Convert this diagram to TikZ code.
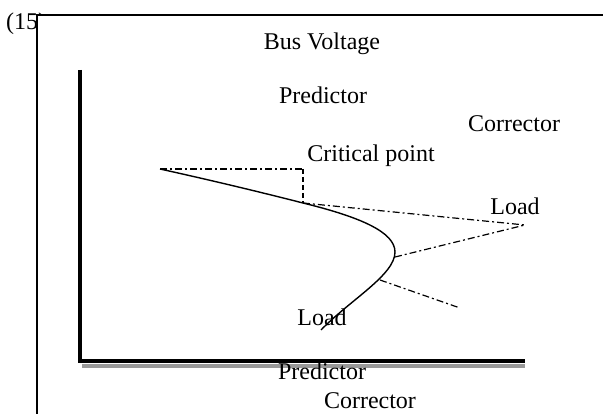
\documentclass[tikz,border=0pt]{standalone}
\usepackage{fontspec}
\setmainfont{Liberation Serif}
\usetikzlibrary{positioning}
\tikzset{
  axis/.style={line width=4.6pt, draw=black},
  shade/.style={line width=3pt, draw=black!40},
  frame/.style={line width=1.2pt, draw=black},
  curve/.style={line width=1.4pt, draw=black},
  guide/.style={line width=1.2pt, draw=black, dash pattern=on 7pt off 3pt on 2pt off 3pt},
  guidev/.style={line width=1.2pt, draw=black, dash pattern=on 5pt off 3pt},
  lbl/.style={font=\fontsize{24}{28}\selectfont, inner sep=0pt, anchor=base},
}

\begin{document}
\begin{tikzpicture}[x=1pt, y=-1pt]
  \useasboundingbox (0,0) rectangle (603,414);
  % frame (white box laid over the equation number)
  \coordinate (ftl) at (37,15);
  \coordinate (ftr) at (603,15);
  \coordinate (fbl) at (37,414);
  \node[lbl, anchor=base west] (eq) at (6,30) {(15)};
  \fill[white] (ftl) rectangle (603,414);
  \draw[frame] (fbl) -- (ftl) -- (ftr);
  % axes
  \coordinate (ytop) at (80,70);
  \coordinate (orig) at (80,361);
  \coordinate (xend) at (525,361);
  \draw[shade] (82,366) -- (525,366);
  \draw[axis] (ytop) -- (orig) -- (xend);
  % PV curve
  \coordinate (start) at (160,169);
  \coordinate (crit) at (303,203);
  \coordinate (nose) at (395,252);
  \coordinate (tail) at (321,330);
  \draw[curve] (start) .. controls (210,180) and (260,192) .. (crit)
    .. controls (360,217) and (395,232) .. (nose)
    .. controls (395,275) and (350,300) .. (tail);
  % predictor / corrector guides
  \coordinate (corner) at (303,169);
  \coordinate (tipR) at (525,225);
  \coordinate (nose2) at (395,257);
  \coordinate (low) at (380,280);
  \coordinate (tipL) at (460,308);
  \draw[guide] (start) -- (corner);
  \draw[guidev] (corner) -- (crit);
  \draw[guide] (crit) -- (tipR);
  \draw[guide] (nose2) -- (tipR);
  \draw[guide] (low) -- (tipL);
  % labels
  \node[lbl] (bus) at (322,50) {Bus Voltage};
  \node[lbl] (pred1) at (323,104) {Predictor};
  \node[lbl] (corr1) at (514,132) {Corrector};
  \node[lbl] (crit1) at (371,162) {Critical point};
  \node[lbl] (loadR) at (515,215) {Load};
  \node[lbl] (loadL) at (322,326) {Load};
  \node[lbl] (pred2) at (322,380) {Predictor};
  \node[lbl] (corr2) at (370,408) {Corrector};
\end{tikzpicture}
\end{document}
